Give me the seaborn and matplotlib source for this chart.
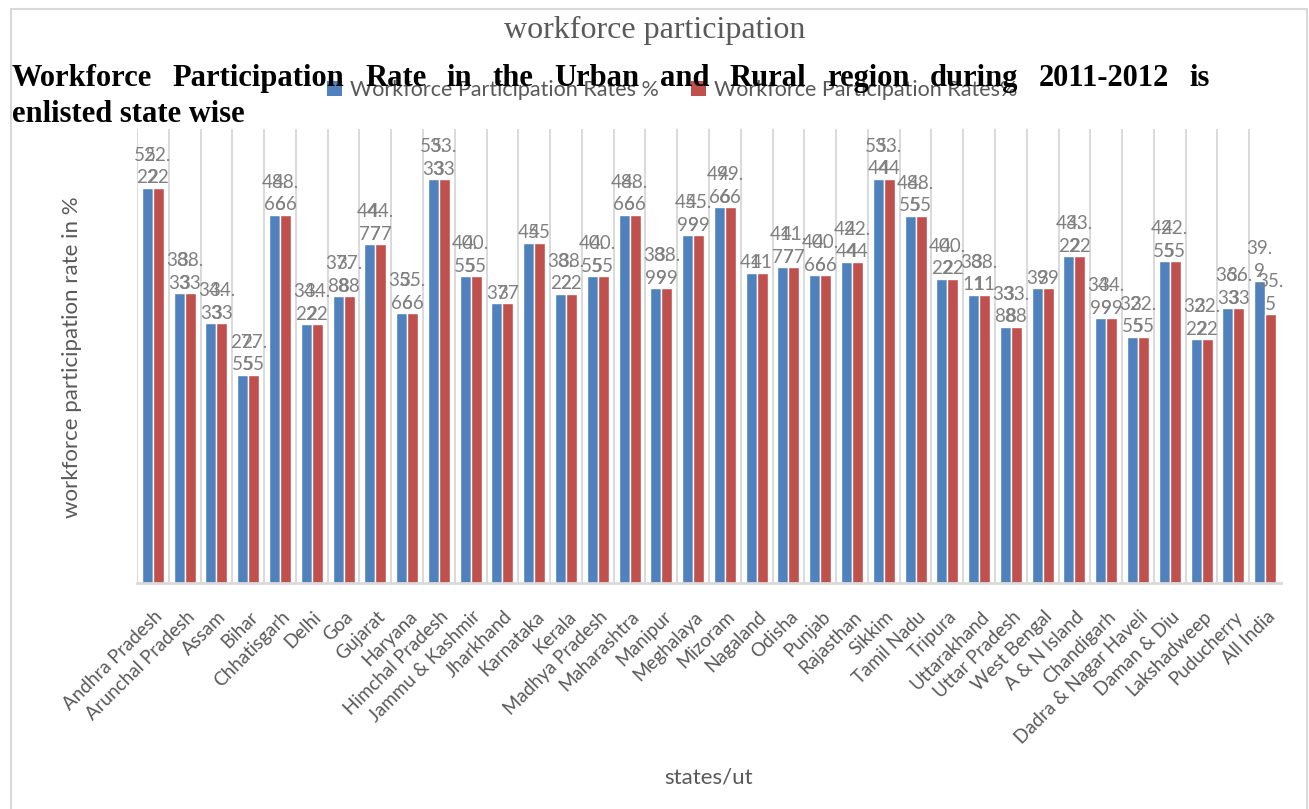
import numpy as np
import pandas as pd
import seaborn as sns
import matplotlib
matplotlib.use("Agg")
import matplotlib.pyplot as plt
import matplotlib.transforms as mtransforms
from matplotlib.patches import Patch, Rectangle

# ---------------- data ----------------
states = ["Andhra Pradesh", "Arunchal Pradesh", "Assam", "Bihar", "Chhatisgarh", "Delhi",
          "Goa", "Gujarat", "Haryana", "Himchal Pradesh", "Jammu & Kashmir", "Jharkhand",
          "Karnataka", "Kerala", "Madhya Pradesh", "Maharashtra", "Manipur", "Meghalaya",
          "Mizoram", "Nagaland", "Odisha", "Punjab", "Rajasthan", "Sikkim", "Tamil Nadu",
          "Tripura", "Uttarakhand", "Uttar Pradesh", "West Bengal", "A & N Island",
          "Chandigarh", "Dadra & Nagar Haveli", "Daman & Diu", "Lakshadweep", "Puducherry",
          "All India"]
series1 = [52.22, 38.33, 34.33, 27.55, 48.66, 34.22, 37.88, 44.77, 35.66, 53.33, 40.55, 37,
           45, 38.22, 40.55, 48.66, 38.99, 45.99, 49.66, 41, 41.77, 40.66, 42.44, 53.44, 48.55,
           40.22, 38.11, 33.88, 39, 43.22, 34.99, 32.55, 42.55, 32.22, 36.33, 39.9]
series2 = [52.22, 38.33, 34.33, 27.55, 48.66, 34.22, 37.88, 44.77, 35.66, 53.33, 40.55, 37,
           45, 38.22, 40.55, 48.66, 38.99, 45.99, 49.66, 41, 41.77, 40.66, 42.44, 53.44, 48.55,
           40.22, 38.11, 33.88, 39, 43.22, 34.99, 32.55, 42.55, 32.22, 36.33, 35.5]
series_keys = ["S1", "S2"]
legend_labels = ["Workforce Participation Rates %", "Workforce Participation Rates%"]
colors = ["#4f81bd", "#c0504d"]

chart_title = "workforce participation"
overlay_line1 = "Workforce Participation Rate in the Urban and Rural region during 2011-2012 is"
overlay_line2 = "enlisted state wise"
y_label = "workforce participation rate in %"
x_label = "states/ut"

# ---------------- setup ----------------
sns.set_style("white")
plt.rcParams["font.family"] = ["Lato", "DejaVu Sans"]

W, H = 1309, 809
fig = plt.figure(figsize=(W / 100, H / 100), dpi=100)

def fx(px):
    return px / W

def fy(py):
    return 1 - py / H

left, right, top, bottom = 137, 1281, 129, 583
ax = fig.add_axes([fx(left), fy(bottom), (right - left) / W, (bottom - top) / H])

df = pd.DataFrame({
    "state": states * 2,
    "series": [series_keys[0]] * len(states) + [series_keys[1]] * len(states),
    "value": series1 + series2,
})

sns.barplot(data=df, x="state", y="value", hue="series", order=states,
            hue_order=series_keys, palette=colors, saturation=1, width=0.69,
            errorbar=None, ax=ax, legend=False, zorder=3)

# data labels (wrapped like the original)
def wrap_label(v):
    s = f"{v:g}"
    if "." in s:
        a, b = s.split(".")
        return f"{a}.\n{b}"
    return s

for cont, vals in zip(ax.containers, [series1, series2]):
    ax.bar_label(cont, labels=[wrap_label(v) for v in vals], padding=1,
                 color="#808080", fontsize=13.5, linespacing=1.4, zorder=4)

ax.set_xlim(-0.5, len(states) - 0.5)
ax.set_ylim(0, 60)
ax.set_yticks([])
ax.set_xlabel("")
ax.set_ylabel("")
for s in ["left", "right", "top"]:
    ax.spines[s].set_visible(False)
ax.spines["bottom"].set_color("#d9d9d9")
ax.spines["bottom"].set_linewidth(2)
ax.spines["bottom"].set_zorder(5)

ax.set_xticks(np.arange(-0.5, len(states) - 1, 1.0), minor=True)
ax.grid(which="minor", axis="x", color="#d9d9d9", linewidth=1.4, zorder=0)
ax.grid(which="major", visible=False)
ax.tick_params(axis="x", which="both", length=0)

ax.set_xticks(range(len(states)))
ax.set_xticklabels(states, rotation=45, ha="right", va="top",
                   rotation_mode="anchor", color="#595959", fontsize=13.5)
ax.tick_params(axis="x", pad=18)
offset = mtransforms.ScaledTranslation(1 / 100, 0, fig.dpi_scale_trans)
for lbl in ax.get_xticklabels():
    lbl.set_transform(lbl.get_transform() + offset)

# axis titles
fig.text(fx(72), fy(357), y_label, rotation=90, ha="center", va="center",
         color="#595959", fontsize=16)
fig.text(fx(709), fy(778), x_label, ha="center", va="center",
         color="#595959", fontsize=16)

# chart title
fig.text(fx(655), fy(30), chart_title, ha="center", va="center",
         color="#595959", fontsize=23, family=["Liberation Serif", "DejaVu Serif"])

# legend
handles = [Patch(facecolor=c, edgecolor="none") for c in colors]
fig.legend(handles, legend_labels, loc="center", bbox_to_anchor=(fx(672), fy(90)),
           ncol=2, frameon=False, fontsize=15.5, labelcolor="#595959",
           handlelength=0.7, handleheight=0.7, handletextpad=0.35,
           columnspacing=1.5)

# bold overlay text (justified first line)
fig.canvas.draw()
renderer = fig.canvas.get_renderer()
words = overlay_line1.split()
tobjs = [fig.text(0, fy(86), w, ha="left", va="baseline", fontsize=22,
                  fontweight="bold", color="black", zorder=10,
                  family=["Liberation Serif", "DejaVu Serif"]) for w in words]
widths = [t.get_window_extent(renderer).width for t in tobjs]
x0, x1 = 12, 1210
gap = (x1 - x0 - sum(widths)) / (len(words) - 1)
xp = x0
for t, wdt in zip(tobjs, widths):
    t.set_x(fx(xp))
    xp += wdt + gap
fig.text(fx(12), fy(122), overlay_line2, ha="left", va="baseline", fontsize=22,
         fontweight="bold", color="black", zorder=10,
         family=["Liberation Serif", "DejaVu Serif"])

# outer chart frame
fig.patches.append(Rectangle((fx(11), -0.02), fx(1307) - fx(11), fy(9) + 0.02,
                             transform=fig.transFigure, fill=False,
                             edgecolor="#d9d9d9", linewidth=1.5, zorder=0))

fig.savefig("out.png", dpi=100)
